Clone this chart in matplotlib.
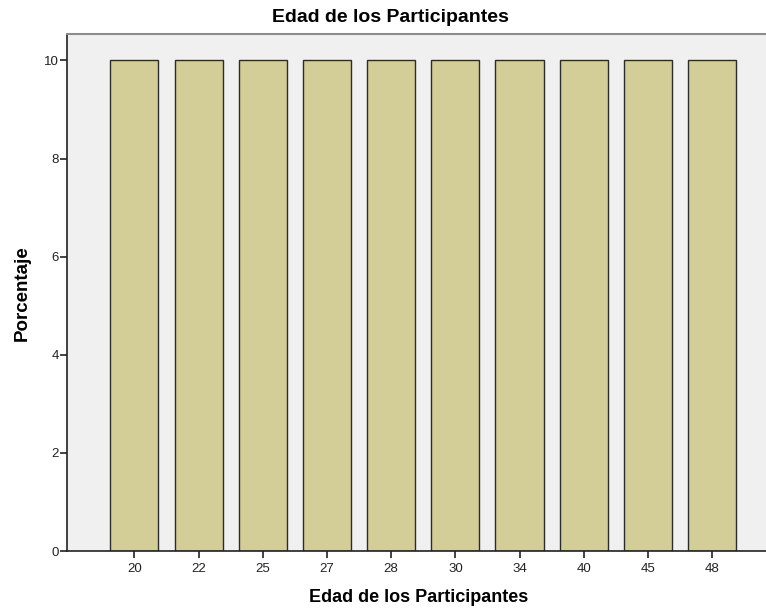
import matplotlib
matplotlib.use("Agg")
import matplotlib.pyplot as plt

plt.rcParams['font.family'] = ['Liberation Sans', 'DejaVu Sans']

# Datos
edades = ["20", "22", "25", "27", "28", "30", "34", "40", "45", "48"]
porcentajes = [10, 10, 10, 10, 10, 10, 10, 10, 10, 10]
yticks = [0, 2, 4, 6, 8, 10]

W, H = 766, 610
fig = plt.figure(figsize=(W / 100, H / 100), dpi=100)
ax = fig.add_axes([0.0875, 0.0967, 0.9125, 0.8476])
ax.set_facecolor("#F0F0F0")

pos = list(range(len(edades)))
ax.bar(pos, porcentajes, width=0.75, color="#D3CE97", edgecolor="#2b2b2b", linewidth=1.0)

ax.set_xlim(-1.05, 9.84)
ax.set_ylim(0, 10.54)
ax.set_xticks(pos)
ax.set_xticklabels(edades)
ax.set_yticks(yticks)

ax.tick_params(axis="both", labelsize=9.5, length=5, width=1.2, color="#222222", labelcolor="#222222")
ax.tick_params(axis="x", pad=3.5)
ax.tick_params(axis="y", pad=1)

for side in ["left", "bottom"]:
    ax.spines[side].set_color("#222222")
    ax.spines[side].set_linewidth(1.2)
ax.spines["top"].set_color("#8c8c8c")
ax.spines["top"].set_linewidth(1.5)
ax.spines["right"].set_visible(False)

# titulos (posiciones en pixeles de la imagen original)
fig.text(390 / W, 1 - 18 / H, "Edad de los Participantes", fontsize=14,
         fontweight="bold", ha="center", va="center")
fig.text(419 / W, 1 - 598 / H, "Edad de los Participantes", fontsize=13,
         fontweight="bold", ha="center", va="center")
fig.text(22 / W, 1 - 293 / H, "Porcentaje", fontsize=13.5, fontweight="bold",
         ha="center", va="center", rotation=90)

plt.savefig("out.png", dpi=100)
